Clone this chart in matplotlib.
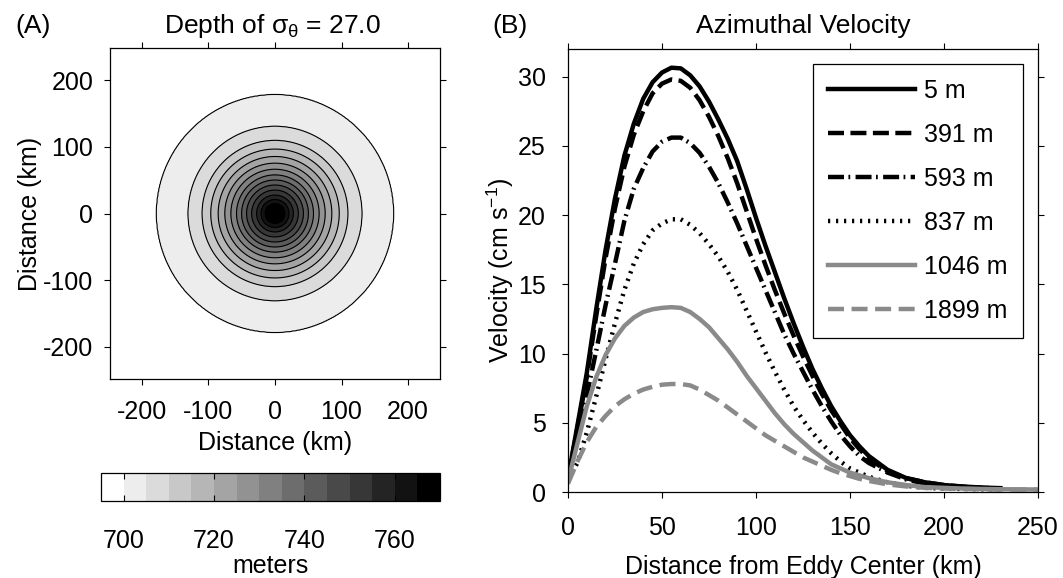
import numpy as np
import matplotlib
matplotlib.use("Agg")
import matplotlib.pyplot as plt
from matplotlib.colors import ListedColormap

plt.rcParams["font.family"] = ["Liberation Sans", "DejaVu Sans"]
plt.rcParams["mathtext.fontset"] = "custom"
plt.rcParams["mathtext.rm"] = "Liberation Sans"
plt.rcParams["mathtext.it"] = "Liberation Sans:italic"
plt.rcParams["font.size"] = 18
plt.rcParams["axes.linewidth"] = 0.9
plt.rcParams["axes.unicode_minus"] = False

# (A) depth of the sigma_theta = 27.0 surface, read as ring radius (km) per contour level (m)
ring_radius_km = [0, 15, 21, 27.6, 35.1, 42.7, 50.2, 57.8, 66.3, 75.4, 85.4, 96.5, 109.5, 130.6, 178, 355]
ring_depth_m = [768, 765, 760, 755, 750, 745, 740, 735, 730, 725, 720, 715, 710, 705, 700, 696]
depth_levels = list(range(695, 775, 5))
cbar_ticks = [700, 720, 740, 760]

# (B) azimuthal velocity (cm/s) against distance from eddy center (km)
dist_km = [0, 5, 10, 15, 20, 25, 30, 35, 40, 45, 50, 55, 60, 65, 70, 75, 80, 85, 90, 95,
           100, 105, 110, 115, 120, 125, 130, 135, 140, 145, 150, 155, 160, 170, 180, 190,
           200, 210, 220, 230]
v_5 = [1.0, 4.8, 8.6, 13.2, 17.5, 21.2, 24.3, 26.6, 28.4, 29.6, 30.3, 30.65, 30.6, 30.1, 29.3,
       28.2, 26.9, 25.5, 23.9, 21.9, 19.8, 17.8, 15.9, 14.0, 12.2, 10.5, 8.9, 7.5, 6.2, 5.1,
       4.1, 3.3, 2.6, 1.6, 1.0, 0.7, 0.5, 0.4, 0.32, 0.28]
v_391 = [1.0, 4.6, 8.3, 12.7, 16.9, 20.5, 23.5, 25.8, 27.5, 28.8, 29.5, 29.8, 29.7, 29.2, 28.3,
         27.1, 25.7, 24.1, 22.3, 20.3, 18.3, 16.4, 14.6, 12.9, 11.3, 9.8, 8.4, 7.1, 5.9, 4.9,
         3.9, 3.1, 2.4, 1.5, 1.0, 0.7, 0.5, 0.38, 0.3, 0.25]
v_593 = [1.0, 4.0, 7.0, 10.2, 13.5, 16.5, 19.6, 21.9, 23.4, 24.6, 25.3, 25.6, 25.6, 25.2, 24.5,
         23.5, 22.3, 20.9, 19.4, 17.8, 16.2, 14.6, 13.0, 11.4, 10.0, 8.7, 7.4, 6.2, 5.1, 4.1,
         3.3, 2.6, 2.1, 1.4, 0.9, 0.6, 0.45, 0.35, 0.3, 0.25]
v_837 = [0.9, 2.1, 4.3, 6.9, 9.6, 12.2, 14.6, 16.5, 17.9, 18.9, 19.4, 19.7, 19.7, 19.3, 18.7,
         17.9, 17.0, 15.9, 14.6, 13.1, 11.6, 10.1, 8.7, 7.4, 6.2, 5.2, 4.3, 3.5, 2.8, 2.2,
         1.7, 1.4, 1.1, 0.7, 0.45, 0.3, 0.25, 0.22, 0.2, 0.2]
v_1046 = [0.8, 3.5, 6.2, 8.3, 9.9, 11.1, 12.0, 12.6, 13.0, 13.2, 13.3, 13.35, 13.3, 13.0, 12.5,
          11.9, 11.1, 10.3, 9.4, 8.4, 7.5, 6.6, 5.7, 4.9, 4.2, 3.6, 3.0, 2.5, 2.0, 1.7,
          1.4, 1.2, 1.0, 0.7, 0.5, 0.35, 0.3, 0.25, 0.22, 0.2]
v_1899 = [0.6, 2.2, 3.6, 4.7, 5.5, 6.2, 6.7, 7.1, 7.4, 7.6, 7.75, 7.8, 7.8, 7.7, 7.4,
          7.0, 6.6, 6.1, 5.6, 5.1, 4.6, 4.1, 3.7, 3.3, 2.9, 2.5, 2.2, 1.9, 1.6, 1.35,
          1.15, 0.95, 0.8, 0.55, 0.4, 0.3, 0.25, 0.22, 0.2, 0.18]
# gray curves continue to the right edge
tail_km = [250]
tail_1046 = [0.18]
tail_1899 = [0.17]

W, H = 1063, 578
fig = plt.figure(figsize=(W / 100, H / 100), dpi=100)


def box(x0, y0, x1, y1):
    # pixel box (top-left origin) -> figure fraction rect
    return [x0 / W, 1 - y1 / H, (x1 - x0) / W, (y1 - y0) / H]


# ---------------- panel A ----------------
ax1 = fig.add_axes(box(110, 48, 440, 379))
xg = np.linspace(-248, 248, 401)
X, Y = np.meshgrid(xg, xg)
D = np.interp(np.hypot(X, Y), ring_radius_km, ring_depth_m)
grays = ListedColormap([str(g) for g in np.linspace(1, 0, len(depth_levels) - 1)])
cf = ax1.contourf(X, Y, D, levels=depth_levels, cmap=grays)
ax1.contour(X, Y, D, levels=depth_levels[1:-1], colors="k", linewidths=0.8)
ax1.set_xlim(-248, 248)
ax1.set_ylim(-248, 248)
ax1.set_xticks([-200, -100, 0, 100, 200])
ax1.set_yticks([-200, -100, 0, 100, 200])
ax1.tick_params(direction="out", top=True, right=True, length=4, width=0.8)
ax1.tick_params(axis="x", pad=11)
ax1.tick_params(axis="y", pad=8)
ax1.set_xlabel("Distance (km)", labelpad=5)
ax1.set_ylabel("Distance (km)", labelpad=1)

cax = fig.add_axes(box(101, 473, 440, 501))
cb = fig.colorbar(cf, cax=cax, orientation="horizontal", ticks=cbar_ticks)
cb.outline.set_linewidth(0.9)
cax.tick_params(direction="in", top=True, bottom=True, length=4, width=0.8, pad=20)
cb.set_label("meters", labelpad=1)

fig.text(15 / W, 1 - 33 / H, "(A)", ha="left", va="baseline", fontsize=19)
fig.text(272 / W, 1 - 33 / H, r"Depth of $\mathrm{\sigma}_{\mathrm{\theta}}$ = 27.0",
         ha="center", va="baseline", fontsize=19)

# ---------------- panel B ----------------
ax2 = fig.add_axes(box(568, 49, 1038, 492))
black, gray = "black", "#8a8a8a"
lw = 3.2
ax2.plot(dist_km, v_5, color=black, lw=lw, label="5 m")
ax2.plot(dist_km, v_391, color=black, lw=lw, dashes=(3.6, 1.45), label="391 m")
ax2.plot(dist_km, v_593, color=black, lw=lw, dashes=(3.6, 1.0, 0.4, 1.2), label="593 m")
ax2.plot(dist_km, v_837, color=black, lw=lw, dashes=(0.5, 1.3), label="837 m")
ax2.plot(dist_km + tail_km, v_1046 + tail_1046, color=gray, lw=lw, label="1046 m")
ax2.plot(dist_km + tail_km, v_1899 + tail_1899, color=gray, lw=lw, dashes=(3.6, 1.7), label="1899 m")
ax2.set_xlim(0, 250)
ax2.set_ylim(0, 32)
ax2.set_xticks([0, 50, 100, 150, 200, 250])
ax2.set_yticks([0, 5, 10, 15, 20, 25, 30])
ax2.tick_params(direction="out", top=True, right=True, length=4, width=0.8)
ax2.tick_params(axis="x", pad=13)
ax2.tick_params(axis="y", pad=12)
ax2.set_xlabel("Distance from Eddy Center (km)", labelpad=11)
ax2.set_ylabel(r"Velocity (cm s$^{-1}$)", labelpad=1)
leg = ax2.legend(loc="upper right", bbox_to_anchor=(0.968, 0.967), borderaxespad=0,
                 handlelength=3.5, handletextpad=0.36, labelspacing=0.8, borderpad=0.6,
                 fancybox=False, framealpha=1, edgecolor="k")
leg.get_frame().set_linewidth(0.9)

fig.text(492 / W, 1 - 33 / H, "(B)", ha="left", va="baseline", fontsize=19)
fig.text(803 / W, 1 - 33 / H, "Azimuthal Velocity", ha="center", va="baseline", fontsize=19)

fig.savefig("out.png", dpi=100)
